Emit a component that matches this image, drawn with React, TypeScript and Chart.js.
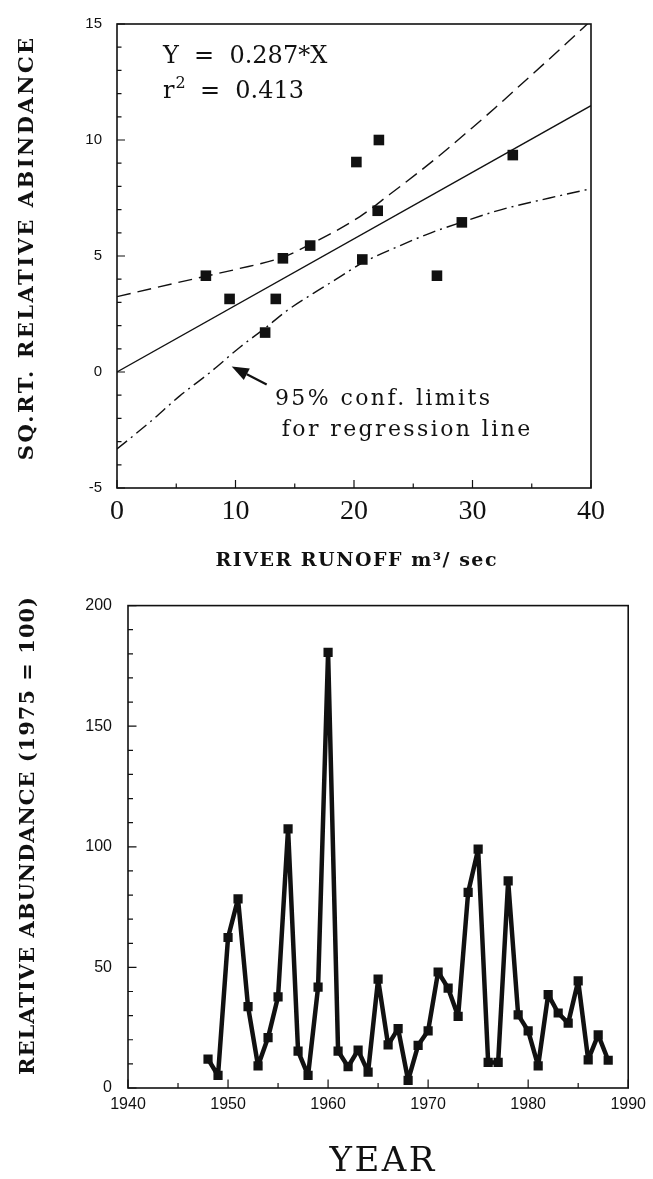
import { useEffect, useRef } from 'react';
import { Chart, registerables } from 'chart.js';

Chart.register(...registerables);

// ---- Upper panel: square-root relative abundance against river runoff ----
const runoff = [7.5, 9.5, 12.5, 13.4, 14.0, 16.3, 20.2, 20.7, 22.0, 22.1, 27.0, 29.1, 33.4];
const sqrtAbundance = [4.15, 3.15, 1.7, 3.15, 4.9, 5.45, 9.05, 4.85, 6.95, 10.0, 4.15, 6.45, 9.35];
const slope = 0.287;
const rSquared = 0.413;
const fitRange = [0, 40];
const upperLimitX = [0, 5, 7.5, 10, 14, 16.3, 20.5, 23, 25.3, 27.5, 29.8, 31.9, 34, 36, 38, 40];
const upperLimitY = [3.25, 3.84, 4.13, 4.42, 4.95, 5.5, 6.7, 7.65, 8.55, 9.45, 10.45, 11.38, 12.35, 13.27, 14.2, 15.15];
const lowerLimitX = [0, 2.8, 5.3, 7.8, 10.4, 12.6, 14.3, 16.6, 18.5, 20.7, 23.9, 26.5, 29.1, 32.3, 36.5, 40];
const lowerLimitY = [-3.32, -2.15, -1.03, -0.04, 1.08, 1.93, 2.63, 3.4, 4.0, 4.7, 5.45, 6.0, 6.46, 6.98, 7.5, 7.9];
const runoffTicks = [0, 10, 20, 30, 40];
const sqrtTicks = [-5, 0, 5, 10, 15];

// ---- Lower panel: yearly relative abundance ----
const years = [
  1948, 1949, 1950, 1951, 1952, 1953, 1954, 1955, 1956, 1957, 1958, 1959, 1960, 1961,
  1962, 1963, 1964, 1965, 1966, 1967, 1968, 1969, 1970, 1971, 1972, 1973, 1974, 1975,
  1976, 1977, 1978, 1979, 1980, 1981, 1982, 1983, 1984, 1985, 1986, 1987, 1988,
];
const abundance = [
  12, 5.2, 62.4, 78.4, 33.7, 9.2, 20.9, 37.8, 107.4, 15.3, 5.2, 41.8, 180.6, 15.3,
  8.8, 15.7, 6.6, 45.1, 17.9, 24.6, 3.2, 17.7, 23.7, 48.1, 41.4, 29.7, 81.1, 99,
  10.6, 10.6, 85.9, 30.3, 23.7, 9.2, 38.7, 31.1, 26.9, 44.4, 11.7, 22, 11.5,
];
const yearTicks = [1940, 1950, 1960, 1970, 1980, 1990];
const abundanceTicks = [0, 50, 100, 150, 200];

const INK = '#111';
const SERIF = "'DejaVu Serif', serif";

type FrameOpts = {
  xMinor: number; xMajor: number; yMinor: number; yMajor: number;
  majorLen: number; minorLen: number; frameWidth: number; tickWidth: number;
};

// Box frame with inward-pointing major and minor tick marks on the left and bottom edges
const axisFrame = {
  id: 'axisFrame',
  afterDraw(chart: any, _args: unknown, o: FrameOpts) {
    const { ctx, chartArea: a } = chart;
    const xs = chart.scales.x;
    const ys = chart.scales.y;
    const isMajor = (v: number, step: number) => Math.abs(v / step - Math.round(v / step)) < 1e-6;
    ctx.save();
    ctx.strokeStyle = INK;
    ctx.lineWidth = o.tickWidth;
    ctx.beginPath();
    const nx = Math.round((xs.max - xs.min) / o.xMinor);
    for (let i = 0; i <= nx; i++) {
      const v = xs.min + i * o.xMinor;
      const p = xs.getPixelForValue(v);
      ctx.moveTo(p, a.bottom);
      ctx.lineTo(p, a.bottom - (isMajor(v, o.xMajor) ? o.majorLen : o.minorLen));
    }
    const ny = Math.round((ys.max - ys.min) / o.yMinor);
    for (let i = 0; i <= ny; i++) {
      const v = ys.min + i * o.yMinor;
      const p = ys.getPixelForValue(v);
      ctx.moveTo(a.left, p);
      ctx.lineTo(a.left + (isMajor(v, o.yMajor) ? o.majorLen : o.minorLen), p);
    }
    ctx.stroke();
    ctx.lineWidth = o.frameWidth;
    ctx.strokeRect(a.left, a.top, a.right - a.left, a.bottom - a.top);
    ctx.restore();
  },
};

type TitleItem = { text: string; x: number; y: number; font: string; spacing: number; rotate?: boolean };

// Axis titles drawn with letter spacing
const axisTitles = {
  id: 'axisTitles',
  afterDraw(chart: any, _args: unknown, o: { items: TitleItem[] }) {
    const { ctx } = chart;
    for (const t of o.items) {
      ctx.save();
      ctx.fillStyle = INK;
      ctx.font = t.font;
      (ctx as any).letterSpacing = `${t.spacing}px`;
      ctx.textAlign = 'center';
      ctx.textBaseline = 'middle';
      ctx.translate(t.x, t.y);
      if (t.rotate) ctx.rotate(-Math.PI / 2);
      ctx.fillText(t.text, t.spacing / 2, 0);
      ctx.restore();
    }
  },
};

const pts = (xs: number[], ys: number[]) => xs.map((x, i) => ({ x, y: ys[i] }));
const fixedTicks = (values: number[]) => (scale: any) => {
  scale.ticks = values.map((value) => ({ value }));
};
const plainLabel = (v: number | string) => String(v);

function makeRunoffChart(canvas: HTMLCanvasElement) {
  // Equation, r-squared and the pointer to the confidence band
  const notes = {
    id: 'notes',
    afterDatasetsDraw(chart: any) {
      const { ctx } = chart;
      const x = chart.scales.x;
      const y = chart.scales.y;
      ctx.save();
      ctx.fillStyle = INK;
      ctx.strokeStyle = INK;
      ctx.textAlign = 'left';
      ctx.textBaseline = 'alphabetic';

      ctx.font = `24px ${SERIF}`;
      ctx.fillText(`Y  =  ${slope}*X`, x.getPixelForValue(3.88), y.getPixelForValue(13.33));
      const rx = x.getPixelForValue(3.88);
      const ry = y.getPixelForValue(11.81);
      ctx.fillText('r', rx, ry);
      const rw = ctx.measureText('r').width;
      ctx.font = `16px ${SERIF}`;
      ctx.fillText('2', rx + rw + 1, ry - 10);
      const sw = ctx.measureText('2').width;
      ctx.font = `24px ${SERIF}`;
      ctx.fillText(`  =  ${rSquared}`, rx + rw + sw, ry);

      ctx.font = `22px ${SERIF}`;
      (ctx as any).letterSpacing = '2.4px';
      ctx.fillText('95% conf. limits', x.getPixelForValue(13.33), y.getPixelForValue(-1.43));
      ctx.fillText('for regression line', x.getPixelForValue(13.9), y.getPixelForValue(-2.74));
      (ctx as any).letterSpacing = '0px';

      // arrow pointing at the lower limit
      const tx = x.getPixelForValue(9.68);
      const ty = y.getPixelForValue(0.24);
      const bx = x.getPixelForValue(12.63);
      const by = y.getPixelForValue(-0.54);
      const ang = Math.atan2(by - ty, bx - tx);
      const headLen = 17;
      const headHalf = 6.5;
      const hx = tx + Math.cos(ang) * headLen;
      const hy = ty + Math.sin(ang) * headLen;
      ctx.lineWidth = 2.2;
      ctx.beginPath();
      ctx.moveTo(hx, hy);
      ctx.lineTo(bx, by);
      ctx.stroke();
      ctx.beginPath();
      ctx.moveTo(tx, ty);
      ctx.lineTo(hx - Math.sin(ang) * headHalf, hy + Math.cos(ang) * headHalf);
      ctx.lineTo(hx + Math.sin(ang) * headHalf, hy - Math.cos(ang) * headHalf);
      ctx.closePath();
      ctx.fill();
      ctx.restore();
    },
  };

  return new Chart(canvas, {
    type: 'scatter',
    data: {
      datasets: [
        {
          data: pts(runoff, sqrtAbundance),
          pointStyle: 'rect',
          pointRadius: 7.5,
          backgroundColor: INK,
          borderWidth: 0,
          showLine: false,
        },
        {
          data: fitRange.map((v) => ({ x: v, y: slope * v })),
          showLine: true,
          borderColor: INK,
          borderWidth: 1.4,
          pointRadius: 0,
        },
        {
          data: pts(upperLimitX, upperLimitY),
          showLine: true,
          borderColor: INK,
          borderWidth: 1.4,
          borderDash: [14, 7],
          cubicInterpolationMode: 'monotone',
          pointRadius: 0,
        },
        {
          data: pts(lowerLimitX, lowerLimitY),
          showLine: true,
          borderColor: INK,
          borderWidth: 1.4,
          borderDash: [13, 5, 2, 5],
          cubicInterpolationMode: 'monotone',
          pointRadius: 0,
        },
      ],
    },
    options: {
      animation: false,
      responsive: false,
      devicePixelRatio: 1,
      layout: { padding: { top: 14, right: 62, left: 0, bottom: 0 } },
      plugins: {
        legend: { display: false },
        tooltip: { enabled: false },
        axisFrame: {
          xMinor: 5, xMajor: 10, yMinor: 1, yMajor: 5,
          majorLen: 8, minorLen: 4.5, frameWidth: 1.6, tickWidth: 1.2,
        },
        axisTitles: {
          items: [
            { text: 'SQ.RT. RELATIVE ABINDANCE', x: 28, y: 249, font: `bold 21px ${SERIF}`, spacing: 2.5, rotate: true },
            { text: 'RIVER RUNOFF m\u00b3/ sec', x: 356, y: 561, font: `bold 19px ${SERIF}`, spacing: 1.5 },
          ],
        },
      } as any,
      scales: {
        x: {
          type: 'linear',
          min: 0,
          max: 40,
          afterBuildTicks: fixedTicks(runoffTicks),
          afterFit: (s: any) => { s.height = 92; },
          grid: { display: false, drawTicks: false },
          border: { display: false },
          ticks: { color: INK, padding: 7, callback: plainLabel, font: { family: "'Liberation Serif', serif", size: 28 } },
        },
        y: {
          type: 'linear',
          min: -5,
          max: 15,
          afterBuildTicks: fixedTicks(sqrtTicks),
          afterFit: (s: any) => { s.width = 117; },
          grid: { display: false, drawTicks: false },
          border: { display: false },
          ticks: { color: INK, padding: 15, callback: plainLabel, font: { family: "'Liberation Sans', sans-serif", size: 15 } },
        },
      },
    },
    plugins: [axisFrame, axisTitles, notes],
  });
}

function makeAbundanceChart(canvas: HTMLCanvasElement) {
  return new Chart(canvas, {
    type: 'line',
    data: {
      datasets: [
        {
          data: pts(years, abundance),
          borderColor: INK,
          backgroundColor: INK,
          borderWidth: 4.5,
          borderJoinStyle: 'round',
          pointStyle: 'rect',
          pointRadius: 6.5,
          pointBorderWidth: 0,
          tension: 0,
        },
      ],
    },
    options: {
      animation: false,
      responsive: false,
      devicePixelRatio: 1,
      layout: { padding: { top: 10, right: 22, left: 0, bottom: 0 } },
      plugins: {
        legend: { display: false },
        tooltip: { enabled: false },
        axisFrame: {
          xMinor: 5, xMajor: 10, yMinor: 10, yMajor: 50,
          majorLen: 8.5, minorLen: 5, frameWidth: 1.6, tickWidth: 1.2,
        },
        axisTitles: {
          items: [
            { text: 'RELATIVE ABUNDANCE (1975 = 100)', x: 29, y: 256, font: `bold 21px ${SERIF}`, spacing: 1, rotate: true },
            { text: 'YEAR', x: 382, y: 582, font: `34px ${SERIF}`, spacing: 2.5 },
          ],
        },
      } as any,
      scales: {
        x: {
          type: 'linear',
          min: 1940,
          max: 1990,
          afterBuildTicks: fixedTicks(yearTicks),
          afterFit: (s: any) => { s.height = 91; },
          grid: { display: false, drawTicks: false },
          border: { display: false },
          ticks: { color: INK, padding: 7, callback: plainLabel, font: { family: "'Liberation Sans', sans-serif", size: 16 } },
        },
        y: {
          type: 'linear',
          min: 0,
          max: 200,
          afterBuildTicks: fixedTicks(abundanceTicks),
          afterFit: (s: any) => { s.width = 128; },
          grid: { display: false, drawTicks: false },
          border: { display: false },
          ticks: { color: INK, padding: 16, callback: plainLabel, font: { family: "'Liberation Sans', sans-serif", size: 16 } },
        },
      },
    },
    plugins: [axisFrame, axisTitles],
  });
}

export default function App() {
  const topRef = useRef<HTMLCanvasElement>(null);
  const bottomRef = useRef<HTMLCanvasElement>(null);

  useEffect(() => {
    const charts = [makeRunoffChart(topRef.current!), makeAbundanceChart(bottomRef.current!)];
    return () => charts.forEach((c) => c.destroy());
  }, []);

  return (
    <div style={{ position: 'absolute', left: 0, top: 0, width: 653, height: 1179, background: '#fff' }}>
      <canvas ref={topRef} width={653} height={580} style={{ position: 'absolute', left: 0, top: 0 }} />
      <canvas ref={bottomRef} width={653} height={599} style={{ position: 'absolute', left: 0, top: 580 }} />
    </div>
  );
}
